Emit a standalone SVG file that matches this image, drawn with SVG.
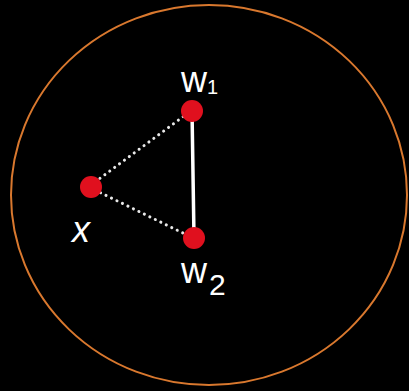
<svg xmlns="http://www.w3.org/2000/svg" width="409" height="391" viewBox="0 0 409 391">
<style>
.node{fill:#e0101e}
.lbl{fill:#ffffff;font-family:"Liberation Sans",sans-serif;font-size:36px}
.dot{stroke:#e8e8e8;stroke-width:3;stroke-dasharray:0.1 6;stroke-linecap:round;fill:none}
</style>
<rect width="409" height="391" fill="#000"/>
<ellipse cx="209" cy="195" rx="198" ry="190" fill="none" stroke="#d9782e" stroke-width="2"/>
<g id="connectors">
<line class="dot" x1="95" y1="182" x2="188" y2="113"/>
<line class="dot" x1="95" y1="190" x2="189" y2="236"/>
<line x1="192" y1="110" x2="194" y2="238" stroke="#ffffff" stroke-width="3.5" stroke-linecap="round"/>
</g>
<g id="node-w1">
<circle class="node" cx="192" cy="111" r="11"/>
<text class="lbl" x="181" y="92">w<tspan font-size="20" dy="2">1</tspan></text>
</g>
<g id="node-x">
<circle class="node" cx="91" cy="187" r="11"/>
<text class="lbl" x="72" y="242" font-size="44" font-style="italic">x</text>
</g>
<g id="node-w2">
<circle class="node" cx="194" cy="238" r="11"/>
<text class="lbl" x="181" y="283">w<tspan font-size="30" dx="2" dy="12">2</tspan></text>
</g>
</svg>
